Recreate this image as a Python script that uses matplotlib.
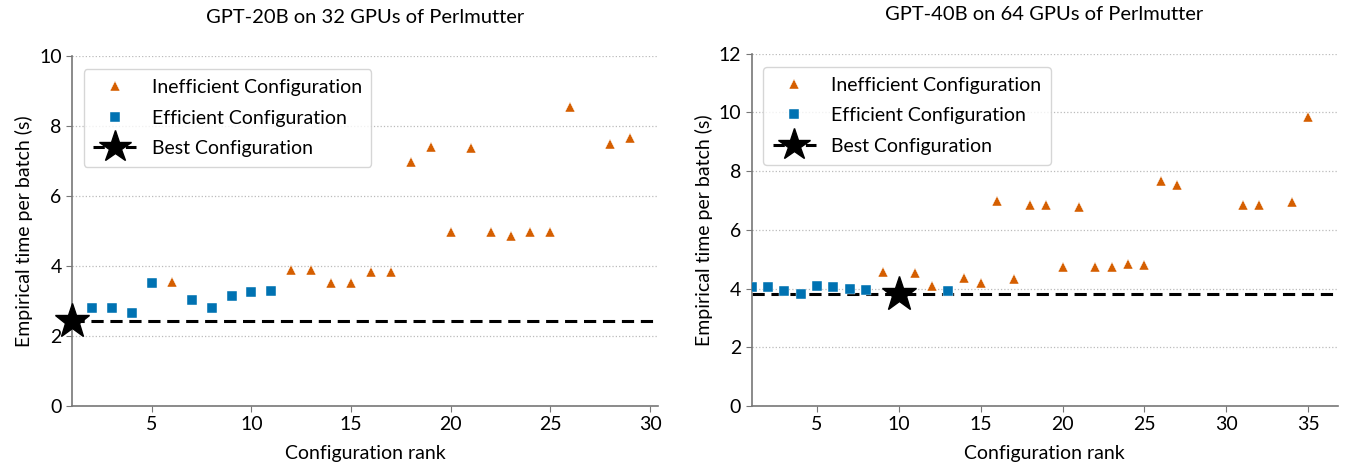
import matplotlib.pyplot as plt
import numpy as np

plt.rcParams['font.family'] = ['Lato', 'DejaVu Sans']

ORANGE = '#d55e00'
BLUE = '#0072b2'

# GPT-20B, 32 GPUs
rank20_eff = [2, 3, 4, 5, 7, 8, 9, 10, 11]
time20_eff = [2.81, 2.81, 2.67, 3.51, 3.03, 2.79, 3.14, 3.25, 3.29]
rank20_ineff = [6, 12, 13, 14, 15, 16, 17, 18, 19, 20, 21, 22, 23, 24, 25, 26, 28, 29]
time20_ineff = [3.53, 3.89, 3.89, 3.51, 3.51, 3.82, 3.82, 6.98, 7.39, 4.98, 7.36,
                4.98, 4.86, 4.98, 4.98, 8.53, 7.50, 7.65]
rank20_best = 1
time20_best = 2.43

# GPT-40B, 64 GPUs
rank40_eff = [1, 2, 3, 4, 5, 6, 7, 8, 13]
time40_eff = [4.05, 4.05, 3.91, 3.82, 4.08, 4.07, 3.99, 3.96, 3.91]
rank40_ineff = [9, 11, 12, 14, 15, 16, 17, 18, 19, 20, 21, 22, 23, 24, 25, 26, 27,
                31, 32, 34, 35]
time40_ineff = [4.58, 4.52, 4.08, 4.37, 4.19, 6.98, 4.31, 6.84, 6.85, 4.75, 6.78,
                4.73, 4.75, 4.82, 4.79, 7.67, 7.52, 6.85, 6.84, 6.95, 9.83]
rank40_best = 10
time40_best = 3.82


def panel(ax, title, r_eff, t_eff, r_in, t_in, r_best, t_best, xmax, ymax, ystep):
    ax.plot(r_in, t_in, '^', color=ORANGE, ms=7.5, mec='white', mew=0.3,
            label='Inefficient Configuration', zorder=3)
    ax.plot(r_eff, t_eff, 's', color=BLUE, ms=7.5, mec='white', mew=0.3,
            label='Efficient Configuration', zorder=3)
    ax.axhline(t_best, color='black', ls='--', lw=2.2, dashes=(4, 2.2), zorder=2)
    ax.plot([r_best], [t_best], '*', color='black', ms=26, zorder=4, clip_on=False)
    # legend proxy for star + dashed line
    ax.plot([], [], color='black', ls='--', lw=2.2, marker='*', ms=24,
            label='Best Configuration')
    ax.set_xlim(1, xmax)
    ax.set_ylim(0, ymax)
    ax.set_yticks(np.arange(0, ymax + 0.1, ystep))
    ax.set_xticks([5, 10, 15, 20, 25, 30, 35][:int(xmax // 5)])
    ax.grid(axis='y', ls=':', color='#bbbbbb', lw=0.9)
    ax.set_axisbelow(True)
    for s in ['top', 'right']:
        ax.spines[s].set_visible(False)
    for s in ['left', 'bottom']:
        ax.spines[s].set_color('#777777')
        ax.spines[s].set_linewidth(1.2)
    ax.tick_params(colors='#777777', labelcolor='black', labelsize=14, length=4)
    ax.set_title(title, fontsize=14.5, pad=24)
    ax.set_xlabel('Configuration rank', fontsize=14, labelpad=8)
    ax.set_ylabel('Empirical time per batch (s)', fontsize=14)
    leg = ax.legend(loc='upper left', fontsize=14, frameon=True, borderpad=0.5,
                    labelspacing=0.7, handlelength=2.2, bbox_to_anchor=(0.003, 0.99))
    leg.get_frame().set_edgecolor('#cccccc')


fig = plt.figure(figsize=(13.47, 4.71), dpi=100)
ax1 = fig.add_axes([0.0535, 0.138, 0.435, 0.743])
ax2 = fig.add_axes([0.558, 0.138, 0.435, 0.748])

panel(ax1, 'GPT-20B on 32 GPUs of Perlmutter', rank20_eff, time20_eff,
      rank20_ineff, time20_ineff, rank20_best, time20_best, 30.4, 10, 2)
panel(ax2, 'GPT-40B on 64 GPUs of Perlmutter', rank40_eff, time40_eff,
      rank40_ineff, time40_ineff, rank40_best, time40_best, 36.8, 12, 2)

fig.savefig('out.png', dpi=100)
